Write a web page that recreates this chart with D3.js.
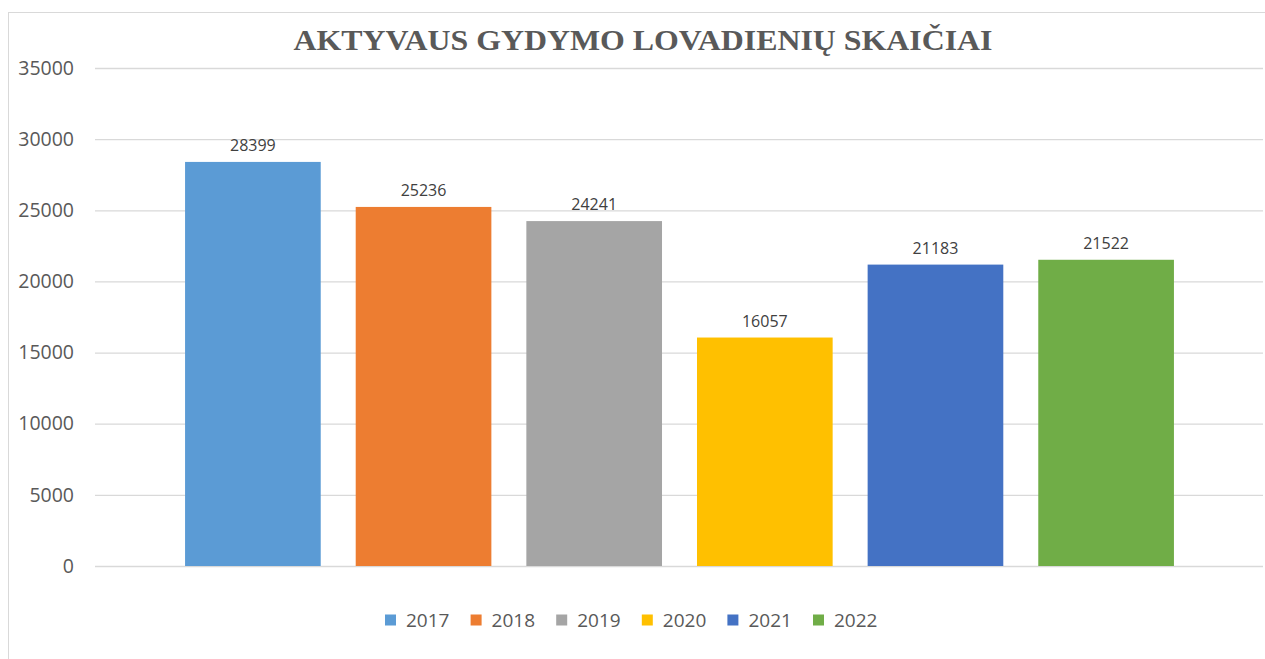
<!DOCTYPE html>
<html>
<head>
<meta charset="utf-8">
<script src="https://cdn.jsdelivr.net/npm/d3@7"></script>
<style>
  html, body { margin: 0; padding: 0; background: #fff; }
  svg { display: block; }
</style>
</head>
<body>
<svg id="chart" width="1265" height="659"></svg>
<script>
// chart data
var years = ['2017', '2018', '2019', '2020', '2021', '2022'];
var bedDays = [28399, 25236, 24241, 16057, 21183, 21522];
var yTicks = [0, 5000, 10000, 15000, 20000, 25000, 30000, 35000];
var barColors = ['#5B9BD5', '#ED7D31', '#A5A5A5', '#FFC000', '#4472C4', '#70AD47'];
var title = 'AKTYVAUS GYDYMO LOVADIENIŲ SKAIČIAI';

var svg = d3.select('#chart');
var textColor = '#595959';
var sans = '"Open Sans", "Noto Sans", sans-serif';

// outer chart border
svg.append('rect')
  .attr('x', 8.5).attr('y', 12.5)
  .attr('width', 1300).attr('height', 700)
  .attr('fill', 'none')
  .attr('stroke', '#d9d9d9');

// title
svg.append('text')
  .attr('x', 643).attr('y', 50)
  .attr('text-anchor', 'middle')
  .attr('font-family', '"Liberation Serif", "Times New Roman", serif')
  .attr('font-weight', 'bold')
  .attr('font-size', 29)
  .attr('fill', textColor)
  .attr('textLength', 699)
  .attr('lengthAdjust', 'spacingAndGlyphs')
  .text(title);

var y = d3.scaleLinear().domain([0, 35000]).range([566, 68]);
var x = d3.scaleBand().domain(years).range([168, 1191]).paddingInner(0.205).paddingOuter(0.1);

// gridlines + tick labels via axis
var yAxis = d3.axisLeft(y)
  .tickValues(yTicks)
  .tickSize(-(1263 - 95))
  .tickPadding(21)
  .tickFormat(d3.format('d'));

var gAxis = svg.append('g')
  .attr('transform', 'translate(95,0)')
  .call(yAxis);
gAxis.select('.domain').remove();
gAxis.selectAll('.tick line')
  .attr('stroke', '#d9d9d9')
  .attr('stroke-width', 1.3);
gAxis.selectAll('.tick text')
  .attr('font-family', sans)
  .attr('font-size', 19.5)
  .attr('fill', textColor);

// bars
var data = years.map(function (yr, i) {
  return { year: yr, value: bedDays[i], color: barColors[i] };
});

svg.append('g')
  .selectAll('rect')
  .data(data)
  .enter()
  .append('rect')
  .attr('x', function (d) { return x(d.year); })
  .attr('y', function (d) { return y(d.value); })
  .attr('width', x.bandwidth())
  .attr('height', function (d) { return y(0) - y(d.value); })
  .attr('fill', function (d) { return d.color; });

// value labels
svg.append('g')
  .selectAll('text')
  .data(data)
  .enter()
  .append('text')
  .attr('x', function (d) { return x(d.year) + x.bandwidth() / 2; })
  .attr('y', function (d) { return y(d.value) - 11; })
  .attr('text-anchor', 'middle')
  .attr('font-family', sans)
  .attr('font-size', 16)
  .attr('fill', '#404040')
  .text(function (d) { return d.value; });

// legend
var legend = svg.append('g')
  .selectAll('g')
  .data(data)
  .enter()
  .append('g')
  .attr('transform', function (d, i) { return 'translate(' + (385 + i * 85.6) + ',620)'; });

legend.append('rect')
  .attr('x', 0).attr('y', -5.5)
  .attr('width', 11).attr('height', 11)
  .attr('fill', function (d) { return d.color; });

legend.append('text')
  .attr('x', 21).attr('y', 0)
  .attr('dy', '0.35em')
  .attr('font-family', sans)
  .attr('font-size', 19)
  .attr('fill', textColor)
  .text(function (d) { return d.year; });
</script>
</body>
</html>
